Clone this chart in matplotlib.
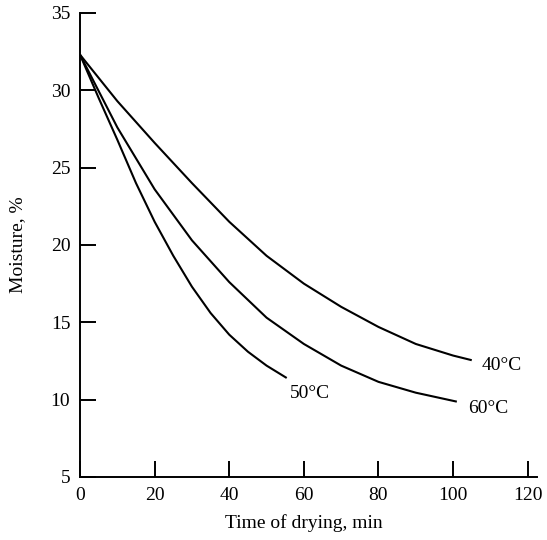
import matplotlib
matplotlib.use("Agg")
import matplotlib.pyplot as plt

# drying curves
time_40 = [0, 10, 20, 30, 40, 50, 60, 70, 80, 90, 100, 105]
moist_40 = [32.3, 29.3, 26.6, 24.0, 21.5, 19.3, 17.5, 16.0, 14.7, 13.6, 12.85, 12.55]

time_50 = [0, 5, 10, 15, 20, 25, 30, 35, 40, 45, 50, 55.4]
moist_50 = [32.3, 29.5, 26.8, 24.0, 21.5, 19.3, 17.3, 15.6, 14.2, 13.1, 12.2, 11.4]

time_60 = [0, 10, 20, 30, 40, 50, 60, 70, 80, 90, 101]
moist_60 = [32.3, 27.6, 23.6, 20.3, 17.6, 15.3, 13.6, 12.2, 11.15, 10.45, 9.87]

labels = ["40°C", "50°C", "60°C"]
label_pos = [(107.6, 12.2), (56.2, 10.4), (104.0, 9.4)]

x_ticks = [0, 20, 40, 60, 80, 100, 120]
y_ticks = [5, 10, 15, 20, 25, 30, 35]

plt.rcParams['font.family'] = ['Liberation Serif', 'DejaVu Serif']
plt.rcParams['font.size'] = 14

fig = plt.figure(figsize=(5.47, 5.40), dpi=100)
ax = fig.add_axes([0.1463, 0.1167, 0.8355, 0.8593])

for t, m in [(time_40, moist_40), (time_50, moist_50), (time_60, moist_60)]:
    ax.plot(t, m, color='black', lw=1.5, solid_capstyle='butt')

for txt, (x, y) in zip(labels, label_pos):
    ax.text(x, y, txt, ha='left', va='center', fontsize=14)

ax.set_xlim(0, 122.5)
ax.set_ylim(5, 35)
ax.set_xticks(x_ticks)
ax.set_yticks(y_ticks)
ax.spines['top'].set_visible(False)
ax.spines['right'].set_visible(False)
for s in ['left', 'bottom']:
    ax.spines[s].set_linewidth(1.4)
ax.tick_params(direction='in', length=11.5, width=1.4, pad=7, labelsize=14)

ax.set_xlabel("Time of drying, min", fontsize=14)
ax.set_ylabel("Moisture, %", fontsize=14)
ax.xaxis.set_label_coords(0.49, -0.08)
ax.yaxis.set_label_coords(-0.118, 0.5)

fig.savefig("out.png", dpi=100)
